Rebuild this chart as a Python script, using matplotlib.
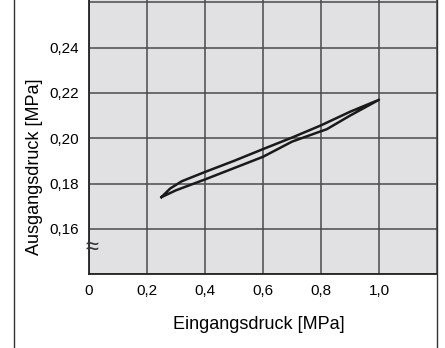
import matplotlib
matplotlib.use("Agg")
import matplotlib.pyplot as plt
from matplotlib.lines import Line2D

plt.rcParams['font.family'] = ['Liberation Sans', 'DejaVu Sans']

# upper branch (rising), lower branch (falling)
x_up = [0.25, 0.28, 0.32, 0.4, 0.5, 0.6, 0.7, 0.8, 0.9, 1.0]
y_up = [0.1740, 0.1778, 0.1810, 0.1851, 0.1900, 0.1952, 0.2003, 0.2057, 0.2117, 0.2170]
x_dn = [1.0, 0.9, 0.82, 0.8, 0.7, 0.6, 0.5, 0.4, 0.3, 0.25]
y_dn = [0.2170, 0.2100, 0.2040, 0.2031, 0.1985, 0.1918, 0.1868, 0.1818, 0.1770, 0.1740]

xticks = [0, 0.2, 0.4, 0.6, 0.8, 1.0, 1.2]
xlabels = ['0', '0,2', '0,4', '0,6', '0,8', '1,0', '']
yticks = [0.14, 0.16, 0.18, 0.20, 0.22, 0.24, 0.26]
ylabels = ['', '0,16', '0,18', '0,20', '0,22', '0,24', '']

fig = plt.figure(figsize=(4.45, 3.48), dpi=100)
ax = fig.add_axes([0.2, 0.2126, 0.782, 0.7874])
ax.set_facecolor('#e1e1e3')

ax.set_xlim(0, 1.2)
ax.set_ylim(0.14, 0.2611)
ax.set_xticks(xticks)
ax.set_xticklabels(xlabels, fontsize=11)
ax.set_yticks(yticks)
ax.set_yticklabels(ylabels, fontsize=11)
ax.tick_params(length=0, pad=7)
ax.grid(True, color='#4a4a4a', linewidth=1.1)
ax.set_axisbelow(True)
for s in ['top', 'right']:
    ax.spines[s].set_visible(False)
for s in ['left', 'bottom']:
    ax.spines[s].set_color('#222222')
    ax.spines[s].set_linewidth(1.3)

ax.plot(x_up + x_dn, y_up + y_dn, color='#1a1a1a', linewidth=1.8)

ax.text(0.01, 0.1515, '≈', fontsize=17, ha='center', va='center', color='#333333')

ax.set_xlabel('Eingangsdruck [MPa]', fontsize=13)
ax.xaxis.set_label_coords(0.489, -0.155)
ax.set_ylabel('Ausgangsdruck [MPa]', fontsize=13)
ax.yaxis.set_label_coords(-0.132, 0.39)

# outer frame lines
fig.add_artist(Line2D([14 / 445, 14 / 445], [0, 1], color='#333333', linewidth=1.0))
fig.add_artist(Line2D([437 / 445, 437 / 445], [0, 1], color='#333333', linewidth=1.0))

fig.savefig('out.png', dpi=100)
